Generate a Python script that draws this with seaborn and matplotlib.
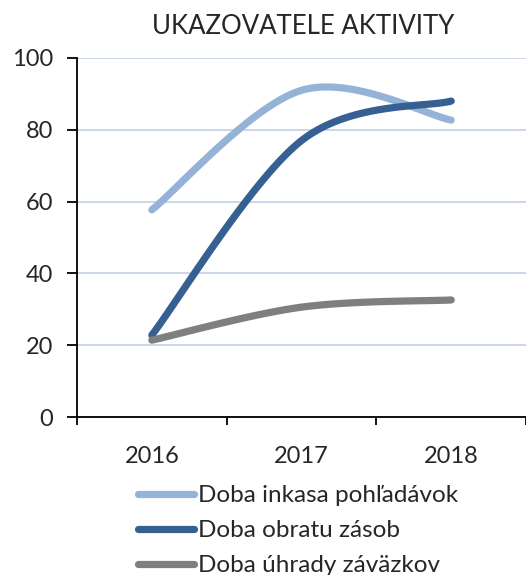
import numpy as np
import pandas as pd
import seaborn as sns
import matplotlib.pyplot as plt

# údaje z grafu
years = ['2016', '2017', '2018']
inkaso = [57.7, 91.0, 82.7]
zasoby = [22.8, 77.0, 88.0]
zavazky = [21.4, 30.6, 32.6]

series_names = ['Doba inkasa pohľadávok', 'Doba obratu zásob', 'Doba úhrady záväzkov']
colors = ['#95B3D7', '#376092', '#7F7F7F']


def smooth(y, n=60):
    """ Vyhladenie ako v Exceli (Bezierove krivky, Catmull-Rom). """
    y = np.asarray(y, dtype=float)
    x = np.arange(len(y), dtype=float)
    pts = np.column_stack([x, y])
    pts_ext = np.vstack([pts[0], pts, pts[-1]])
    out = []
    t = np.linspace(0, 1, n)[:, None]
    for i in range(len(pts) - 1):
        p0 = pts_ext[i + 1]
        p3 = pts_ext[i + 2]
        p1 = p0 + (pts_ext[i + 2] - pts_ext[i]) / 6
        p2 = p3 - (pts_ext[i + 3] - pts_ext[i + 1]) / 6
        seg = ((1 - t) ** 3) * p0 + 3 * ((1 - t) ** 2) * t * p1 + 3 * (1 - t) * t ** 2 * p2 + t ** 3 * p3
        out.append(seg if i == 0 else seg[1:])
    return np.vstack(out)


frames = []
for name, vals in zip(series_names, [inkaso, zasoby, zavazky]):
    s = smooth(vals)
    frames.append(pd.DataFrame({'x': s[:, 0], 'y': s[:, 1], 'serie': name}))
df = pd.concat(frames, ignore_index=True)

sns.set_style('white')
plt.rcParams['font.family'] = ['Lato', 'DejaVu Sans']

fig = plt.figure(figsize=(5.26, 5.75), dpi=100)
ax = fig.add_axes([77 / 526, 1 - 417 / 575, 1 - 77 / 526, (417 - 58) / 575])

sns.lineplot(data=df, x='x', y='y', hue='serie', palette=colors, sort=False,
             estimator=None, linewidth=5.2, ax=ax, legend=True)
for line in ax.get_lines():
    line.set_solid_capstyle('round')

ax.set_xlim(-0.5, 2.454)
ax.set_ylim(0, 100)
ax.set_yticks(range(0, 101, 20))
ax.yaxis.grid(True, color='#C8D3EA', linewidth=1.3)
ax.set_axisbelow(True)
ax.set_xticks(range(len(years)))
ax.set_xticklabels(years)
ax.set_xticks([-0.5, 0.5, 1.5, 2.5], minor=True)
ax.tick_params(axis='x', which='major', length=0, pad=21, labelsize=17)
ax.tick_params(axis='x', which='minor', length=6, width=1.3, color='black', direction='out', bottom=True)
ax.tick_params(axis='y', length=7, width=1.3, color='black', direction='out', pad=10, labelsize=17, left=True)
ax.set_xlabel('')
ax.set_ylabel('')
for side in ['top', 'right']:
    ax.spines[side].set_visible(False)
for side in ['left', 'bottom']:
    ax.spines[side].set_color('black')
    ax.spines[side].set_linewidth(1.3)

fig.text(303 / 526, 1 - 27 / 575, 'UKAZOVATELE AKTIVITY', ha='center', va='center', fontsize=18.5)

handles, labels = ax.get_legend_handles_labels()
ax.get_legend().remove()
leg = fig.legend(handles, labels, loc='upper left', bbox_to_anchor=(138 / 526, 1 - 485 / 575),
                 frameon=False, fontsize=17.5, handlelength=2.3, handletextpad=0.15,
                 labelspacing=0.58, borderaxespad=0, borderpad=0)
for h in leg.get_lines():
    h.set_linewidth(5.2)
    h.set_solid_capstyle('round')

fig.savefig('out.png', dpi=100)
